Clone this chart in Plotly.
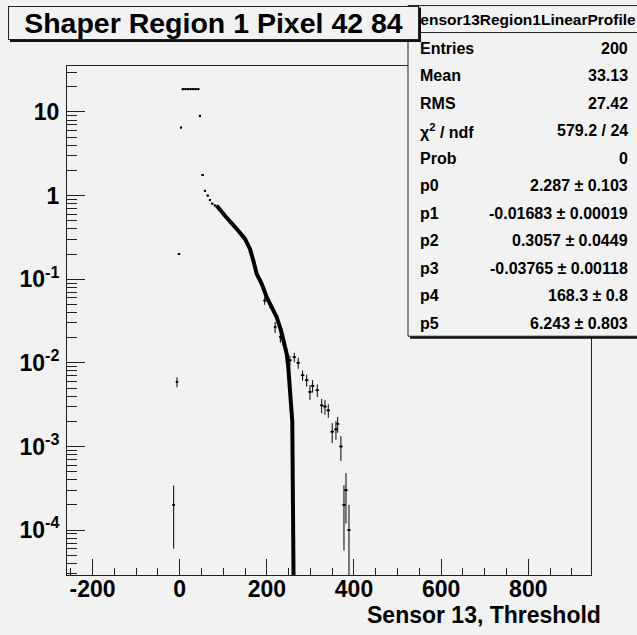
import plotly.graph_objects as go

# ---------------- data ----------------
# profile bins: centre, mean value, half bin width, error up, error down
bin_x = [-13.8, -6.2, -1.6, 3.0,
         7.5, 13.3, 19.1, 24.9, 30.7, 36.5, 42.3,
         46.5, 52.7, 58.0, 64.3, 69.5, 74.8,
         81, 87, 93, 99, 105, 111, 117, 123, 129, 135, 141, 147, 153, 159,
         165, 171, 177, 183, 189, 195, 201, 207, 213, 219, 225, 231, 237, 243, 249,
         253, 263, 272, 282, 291.4, 299, 305, 315.8, 325.8, 333.4, 341, 350,
         358.6, 362.5, 370, 377, 381.6, 388.5]
bin_y = [2.0e-4, 0.0059, 0.20, 6.5,
         18.7, 18.7, 18.7, 18.7, 18.7, 18.7, 18.7,
         8.96, 1.76, 1.14, 1.0, 0.885, 0.80,
         0.76, 0.73, 0.67, 0.62, 0.57, 0.52, 0.47, 0.43, 0.40, 0.38, 0.35, 0.32, 0.28, 0.245,
         0.20, 0.155, 0.117, 0.10, 0.085, 0.0555, 0.058, 0.050, 0.044, 0.0267, 0.033, 0.0204,
         0.019, 0.0145, 0.0105,
         0.0107, 0.0117, 0.0100, 0.0071, 0.0062, 0.0045, 0.0053, 0.0047, 0.0031, 0.0030,
         0.0027, 0.0015, 0.0016, 0.00186, 0.0010, 2.0e-4, 3.0e-4, 1.0e-4]
bin_ex = [3.0, 3.0, 3.0, 2.5,
          3.3, 3.3, 3.3, 3.3, 3.3, 3.3, 3.3,
          2.5, 3.0, 2.5, 2.5, 2.5, 2.5,
          3, 3, 3, 3, 3, 3, 3, 3, 3, 3, 3, 3, 3, 3,
          3, 3, 3, 3, 3, 3, 3, 3, 3, 3, 3, 3, 3, 3, 3,
          4, 4, 4, 4, 4, 4, 4, 4, 4, 4, 4, 4, 4, 4, 4, 4, 4, 4]
bin_ey_up = [1.4e-4, 0.0008, 0.005, 0.1,
             0.2, 0.2, 0.2, 0.2, 0.2, 0.2, 0.2,
             0.3, 0.03, 0.02, 0.015, 0.012, 0.01,
             0.01, 0.01, 0.01, 0.01, 0.01, 0.01, 0.01, 0.008, 0.008, 0.008, 0.008, 0.007, 0.007, 0.007,
             0.006, 0.006, 0.005, 0.005, 0.005, 0.006, 0.005, 0.005, 0.004, 0.004, 0.004, 0.003,
             0.003, 0.002, 0.0015,
             0.0015, 0.0015, 0.0015, 0.0010, 0.0010, 0.0009, 0.0009, 0.0008, 0.0006, 0.0006,
             0.0005, 0.0004, 0.0004, 0.0004, 0.00033, 1.43e-4, 1.8e-4, 1.0e-4]
bin_ey_dn = bin_ey_up[:-1] + [0.99e-4]

# fitted function (thick curve)
fit_x = [84, 87.2, 104, 119.3, 134.5, 149.9, 161.3, 168.9, 176.7, 188.2, 199.7, 211.1,
         222.6, 232.5, 240, 245.6, 249.2, 250.8, 255.4, 258.4, 260.7, 262.5, 263.5]
fit_y = [0.75, 0.734, 0.574, 0.457, 0.380, 0.303, 0.230, 0.167, 0.116, 0.0879, 0.0608, 0.0462,
         0.0351, 0.0244, 0.0169, 0.0128, 0.0089, 0.0062, 0.0032, 0.0020, 1.1e-4, 3.0e-5, 1e-6]

x_tick_vals = [-200, 0, 200, 400, 600, 800]
x_tick_text = ["-200", "0", "200", "400", "600", "800"]
y_tick_vals = [1e-4, 1e-3, 1e-2, 1e-1, 1, 10]
y_tick_text = ["10<sup>-4</sup>", "10<sup>-3</sup>", "10<sup>-2</sup>", "10<sup>-1</sup>", "1", "10"]

title_text = "Shaper Region 1 Pixel 42 84"
x_title = "Sensor 13, Threshold"
stats_name = "Sensor13Region1LinearProfile"
stats_labels = ["Entries", "Mean", "RMS", "χ<sup>2</sup> / ndf", "Prob",
                "p0", "p1", "p2", "p3", "p4", "p5"]
stats_values = ["200", "33.13", "27.42", "579.2 / 24", "0",
                "2.287 ± 0.103", "-0.01683 ± 0.00019", "0.3057 ± 0.0449",
                "-0.03765 ± 0.00118", "168.3 ± 0.8", "6.243 ± 0.803"]

# ---------------- layout geometry (pixels) ----------------
W, H = 637, 635
L, R, T, B = 67, 591, 65.5, 575
BG = "#f2f2f2"
FONT = "Liberation Sans, Arial, Helvetica, sans-serif"


def fx(px):
    return (px - L) / (R - L)


def fy(py):
    return (B - py) / (B - T)


fig = go.Figure()

fig.add_trace(go.Scatter(
    x=bin_x, y=bin_y, mode="markers",
    marker=dict(color="black", size=2, symbol="square"),
    error_x=dict(type="data", array=bin_ex, color="black", thickness=1.5, width=0),
    error_y=dict(type="data", array=bin_ey_up, arrayminus=bin_ey_dn, symmetric=False,
                 color="black", thickness=1, width=0),
    showlegend=False, hoverinfo="skip"))

fig.add_trace(go.Scatter(
    x=fit_x, y=fit_y, mode="lines",
    line=dict(color="black", width=4),
    showlegend=False, hoverinfo="skip"))

minor_y = [m * 10 ** e for e in range(-5, 2) for m in range(2, 10)]

fig.update_layout(
    width=W, height=H,
    margin=dict(l=L, r=W - R, t=T, b=H - B, pad=0),
    paper_bgcolor=BG, plot_bgcolor=BG,
    font=dict(family=FONT, size=23, color="black", weight="bold"),
    xaxis=dict(
        range=[-258.6, 943.9], showgrid=False, zeroline=False,
        showline=True, linecolor="#222", linewidth=1, mirror=True,
        ticks="inside", ticklen=16, tickwidth=1, tickcolor="#222",
        tickvals=x_tick_vals, ticktext=x_tick_text,
        tickfont=dict(family=FONT, size=23, weight="bold"),
        ticklabelstandoff=-7,
        minor=dict(ticks="inside", ticklen=7, tickwidth=1, tickcolor="#222", dtick=50,
                   tick0=0, showgrid=False),
    ),
    yaxis=dict(
        type="log", range=[-4.537, 1.549], showgrid=False, zeroline=False,
        showline=True, linecolor="#222", linewidth=1, mirror=True,
        ticks="inside", ticklen=18, tickwidth=1, tickcolor="#222",
        tickvals=y_tick_vals, ticktext=y_tick_text,
        tickfont=dict(family=FONT, size=23, weight="bold"),
        ticklabelstandoff=2,
        minor=dict(ticks="inside", ticklen=10, tickwidth=1, tickcolor="#222",
                   tickvals=minor_y, showgrid=False),
    ),
)

shapes = [
    # stats box shadow, box and header separator
    dict(type="rect", xref="paper", yref="paper",
         x0=fx(410), x1=fx(645), y0=fy(338.5), y1=fy(7),
         fillcolor="#111", line=dict(width=0), layer="above"),
    dict(type="rect", xref="paper", yref="paper",
         x0=fx(408), x1=fx(640), y0=fy(336), y1=fy(5),
         fillcolor=BG, line=dict(color="#222", width=1), layer="above"),
    dict(type="line", xref="paper", yref="paper",
         x0=fx(408), x1=fx(640), y0=fy(32), y1=fy(32),
         line=dict(color="#222", width=1), layer="above"),
    # title box shadow
    dict(type="rect", xref="paper", yref="paper",
         x0=fx(10), x1=fx(421), y0=fy(41.5), y1=fy(7),
         fillcolor="#111", line=dict(width=0), layer="above"),
]
fig.update_layout(shapes=shapes)

ann = []
ann.append(dict(text=stats_name, x=fx(522.5), y=fy(19), xref="paper", yref="paper",
                xanchor="center", yanchor="middle", showarrow=False,
                font=dict(family=FONT, size=15.5, weight="bold")))
row0, drow = 47.5, 27.55
for i, (lab, val) in enumerate(zip(stats_labels, stats_values)):
    yy = fy(row0 + i * drow)
    ann.append(dict(text=lab, x=fx(418), y=yy, xref="paper", yref="paper",
                    xanchor="left", yanchor="middle", showarrow=False,
                    font=dict(family=FONT, size=16, weight="bold")))
    ann.append(dict(text=val, x=fx(630), y=yy, xref="paper", yref="paper",
                    xanchor="right", yanchor="middle", showarrow=False,
                    font=dict(family=FONT, size=16, weight="bold")))
# title box (opaque, drawn over the stats header)
ann.append(dict(text=title_text, x=fx(213.5), y=fy(22.3), xref="paper", yref="paper",
                xanchor="center", yanchor="middle", showarrow=False,
                width=409, height=32, borderpad=0, borderwidth=1,
                bordercolor="#222", bgcolor=BG,
                font=dict(family=FONT, size=28.5, weight="bold")))
ann.append(dict(text=x_title, x=fx(603), y=fy(615), xref="paper", yref="paper",
                xanchor="right", yanchor="middle", showarrow=False,
                font=dict(family=FONT, size=23, weight="bold")))
fig.update_layout(annotations=ann)

fig.write_html("out.html")
